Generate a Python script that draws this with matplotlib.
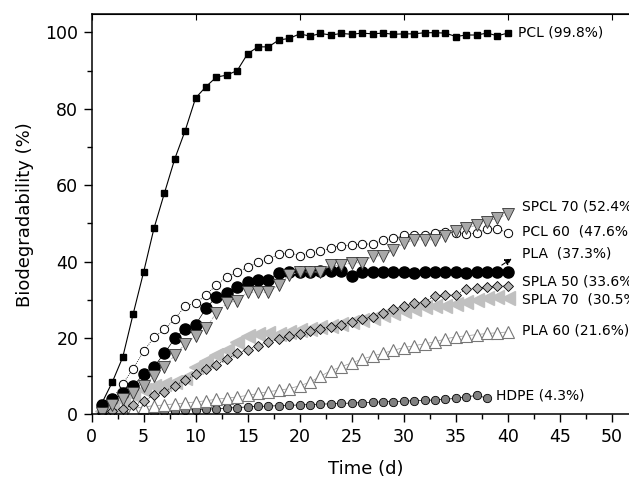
import matplotlib
matplotlib.use("Agg")
import matplotlib.pyplot as plt
from matplotlib.ticker import MultipleLocator

# time in days
days = list(range(1, 41))

pcl = [3, 8.5, 15, 26.3, 37.2, 48.7, 57.9, 66.9, 74.3, 82.8,
       85.8, 88.3, 88.8, 90, 94.4, 96.2, 96.2, 98, 98.4, 99.6,
       99, 99.7, 99.3, 99.7, 99.5, 99.8, 99.6, 99.8, 99.5, 99.6,
       99.6, 99.9, 99.9, 99.8, 98.9, 99.3, 99.3, 99.8, 99.1, 99.8]
pcl60 = [1, 4, 8, 12, 16.5, 20.2, 22.3, 25, 28.4, 29.1,
         31.3, 33.9, 36, 37.3, 38.5, 39.8, 40.6, 42, 42.3, 41.6,
         42.2, 42.7, 43.6, 44.2, 44.3, 44.6, 44.6, 45.6, 46.1, 46.9,
         46.9, 47.0, 47.6, 47.7, 47.6, 47.3, 47.4, 48.6, 48.5, 47.6]
spcl70 = [0.5, 2.5, 4, 5.5, 7.5, 10, 12.5, 15.5, 18.5, 20.5,
          22.6, 26.6, 29.1, 29.8, 32, 32, 32, 33.9, 36.5, 37.3,
          37.3, 37.3, 39, 39, 39.7, 39.7, 41.5, 41.5, 43.1, 44.8,
          45.7, 45.7, 45.7, 46.6, 47.9, 48.7, 49.6, 50.5, 51.4, 52.4]
pla = [2.5, 4, 5.5, 7.5, 10.5, 12.5, 16, 19.9, 22.5, 23.5,
       27.8, 30.8, 31.7, 33.4, 34.7, 35.3, 35.3, 37.1, 37.2, 37.2,
       37.3, 37.5, 37.6, 37.6, 36.3, 37.3, 37.3, 37.2, 37.3, 37.2,
       37.0, 37.3, 37.2, 37.3, 37.2, 37.0, 37.2, 37.3, 37.4, 37.3]
spla50 = [0.5, 1, 1.5, 2.5, 3.5, 5, 6, 7.5, 9, 10.5,
          12, 13, 14.5, 16, 17, 18, 19, 19.8, 20.5, 21,
          21.8, 22.5, 23, 23.5, 24.2, 25, 25.5, 26.5, 27.5, 28.3,
          29.2, 29.5, 31, 31.2, 31.3, 32.8, 33, 33.4, 33.6, 33.6]
spla70 = [1, 2, 3.5, 5, 6.5, 7.5, 8, 8.5, 9.5, 12.5,
          14, 15.5, 17, 19, 20.5, 21, 21.2, 21, 21.5, 22,
          22.5, 22.8, 23.2, 23.8, 24.2, 24.8, 25.3, 26, 26.5, 27,
          27.5, 28, 28.3, 28.5, 29, 29.5, 30, 30.5, 30.8, 30.5]
pla60 = [0, 0.5, 1, 1.5, 2, 2.3, 2.5, 2.8, 3, 3.3,
         3.6, 4, 4.3, 4.6, 5, 5.5, 6, 6.3, 6.8, 7.5,
         8.5, 10, 11.5, 12.5, 13.5, 14.5, 15.3, 16, 16.8, 17.5,
         18, 18.5, 19, 19.8, 20.3, 20.6, 20.9, 21.2, 21.4, 21.6]
hdpe_days = list(range(1, 39))
hdpe = [0, 0.2, 0.3, 0.5, 0.6, 0.7, 0.8, 1, 1.1, 1.3,
        1.4, 1.5, 1.7, 1.8, 2, 2.1, 2.2, 2.3, 2.4, 2.5,
        2.6, 2.7, 2.8, 2.9, 3, 3.1, 3.2, 3.3, 3.4, 3.5,
        3.6, 3.7, 3.8, 4, 4.2, 4.6, 5, 4.3]

fig = plt.figure(figsize=(6.29, 4.84), dpi=100)
ax = fig.add_axes([0.1455, 0.1436, 0.872, 0.8275])

ax.plot(hdpe_days, hdpe, color="k", lw=0.5, marker="o", ms=6,
        mfc="#808080", mec="k", mew=0.6)
ax.plot(days, pla60, color="#999999", lw=0.5, marker="^", ms=8,
        mfc="white", mec="#777777", mew=0.8)
ax.plot(days, spla70, color="#c0c0c0", lw=0.5, ls="none", marker="<", ms=10,
        mfc="#c0c0c0", mec="#c0c0c0")
ax.plot(days, spla50, color="k", lw=0.6, ls=(0, (1, 1.5)), marker="D", ms=5.5,
        mfc="#b0b0b0", mec="k", mew=0.6)
ax.plot(days, pcl60, color="k", lw=0.6, ls=(0, (1, 1.5)), marker="o", ms=6,
        mfc="white", mec="k", mew=0.7)
ax.plot(days, pla, color="k", lw=0.5, marker="o", ms=8,
        mfc="k", mec="k")
ax.plot(days, spcl70, color="#aaaaaa", lw=0.6, ls="--", marker="v", ms=9,
        mfc="#a8a8a8", mec="#333333", mew=0.6)
ax.plot(days, pcl, color="k", lw=0.8, marker="s", ms=4,
        mfc="k", mec="k")

lab = dict(fontsize=10, family=["Liberation Sans Narrow", "DejaVu Sans"],
           va="center", ha="left", clip_on=False)
ax.text(41.0, 99.9, "PCL (99.8%)", **lab)
ax.text(41.4, 54.4, "SPCL 70 (52.4%)", **lab)
ax.text(41.4, 48.0, "PCL 60  (47.6%)", **lab)
ax.text(41.4, 42.0, "PLA  (37.3%)", **lab)
ax.text(41.4, 34.7, "SPLA 50 (33.6%)", **lab)
ax.text(41.4, 30.2, "SPLA 70  (30.5%)", **lab)
ax.text(41.4, 22.0, "PLA 60 (21.6%)", **lab)
ax.text(38.9, 5.0, "HDPE (4.3%)", **lab)
ax.annotate("", xy=(40.6, 41.2), xytext=(39.2, 38.7),
            arrowprops=dict(arrowstyle="-|>", color="k", lw=0.8,
                            ls="--", mutation_scale=10))

ax.set_xlim(0, 52.7)
ax.set_ylim(0, 104.8)
ax.xaxis.set_major_locator(MultipleLocator(5))
ax.xaxis.set_minor_locator(MultipleLocator(2.5))
ax.yaxis.set_major_locator(MultipleLocator(20))
ax.yaxis.set_minor_locator(MultipleLocator(10))
ax.tick_params(which="both", direction="out", top=False, right=False,
               labelsize=12.5, width=1)
ax.tick_params(which="major", length=6)
ax.tick_params(which="minor", length=3.5)
ax.secondary_xaxis("top").tick_params(which="both", direction="in",
                                       labeltop=False, length=4)
for s in ax.spines.values():
    s.set_linewidth(1.1)

ax.set_xlabel("Time (d)", fontsize=13, labelpad=10)
ax.set_ylabel("Biodegradability (%)", fontsize=13, labelpad=8)

fig.savefig("out.png", dpi=100)
